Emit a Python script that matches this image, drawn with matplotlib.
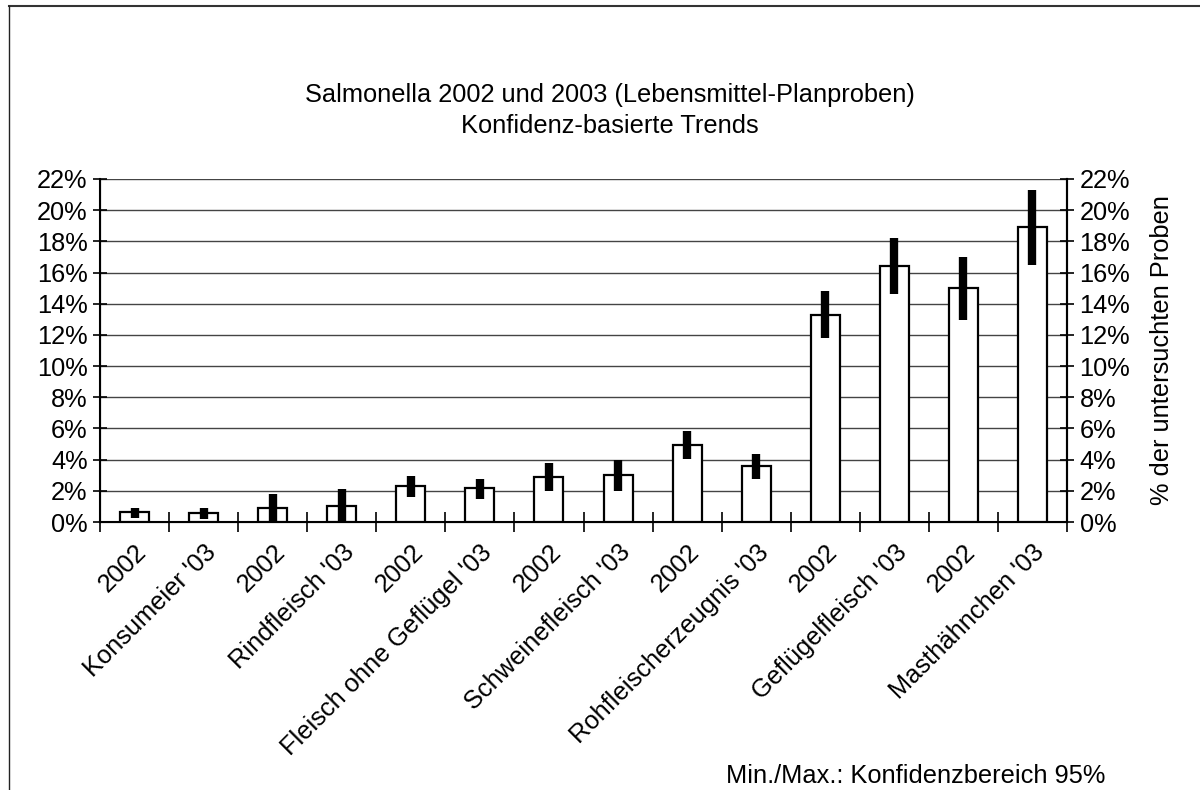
import matplotlib.pyplot as plt
import matplotlib.ticker as mticker
from matplotlib.lines import Line2D

plt.rcParams['font.family'] = ['Liberation Sans', 'DejaVu Sans']

labels = ['2002', "Konsumeier '03", '2002', "Rindfleisch '03",
          '2002', "Fleisch ohne Geflügel '03", '2002', "Schweinefleisch '03",
          '2002', "Rohfleischerzeugnis '03", '2002', "Geflügelfleisch '03",
          '2002', "Masthähnchen '03"]
werte = [0.66, 0.60, 0.88, 1.05, 2.30, 2.16, 2.87, 2.99, 4.94, 3.59,
         13.3, 16.43, 15.0, 18.9]
ki_min = [0.28, 0.20, 0.0, 0.0, 1.60, 1.50, 1.99, 1.99, 4.06, 2.78,
          11.78, 14.63, 12.95, 16.5]
ki_max = [0.92, 0.88, 1.78, 2.10, 2.93, 2.76, 3.76, 4.00, 5.83, 4.36,
          14.83, 18.2, 16.99, 21.28]

fs = 18.3

fig = plt.figure(figsize=(12, 7.9), dpi=100)
ax = fig.add_axes([100/1200, 1 - 522/790, 967/1200, 343/790])

x = list(range(len(werte)))
ax.bar(x, werte, width=0.42, color='white', edgecolor='black', linewidth=1.6, zorder=3)
ax.vlines(x, ki_min, ki_max, color='black', linewidth=6, zorder=4)

ax.set_xlim(-0.5, len(werte) - 0.5)
ax.set_ylim(0, 22)
ax.yaxis.set_major_locator(mticker.MultipleLocator(2))
ax.yaxis.set_major_formatter(mticker.FuncFormatter(lambda v, p: f'{v:.0f}%'))
ax.grid(axis='y', color='#444444', linewidth=1, zorder=0)
ax.tick_params(axis='y', labelsize=fs, direction='inout', length=10, width=1.2, pad=4)

ax.set_xticks(x)
ax.set_xticklabels(labels, rotation=45, ha='right', va='top', rotation_mode='anchor',
                   fontsize=fs)
ax.tick_params(axis='x', length=0, pad=13)
ax.set_xticks([i + 0.5 for i in range(-1, len(werte))], minor=True)
ax.tick_params(axis='x', which='minor', direction='inout', length=14, width=1.2)

ax.spines['top'].set_visible(False)
for s in ['left', 'right', 'bottom']:
    ax.spines[s].set_linewidth(1.5)

ax2 = ax.twinx()
ax2.set_ylim(0, 22)
ax2.yaxis.set_major_locator(mticker.MultipleLocator(2))
ax2.yaxis.set_major_formatter(mticker.FuncFormatter(lambda v, p: f'{v:.0f}%'))
ax2.tick_params(axis='y', labelsize=fs, direction='inout', length=10, width=1.2, pad=4)
ax2.spines['top'].set_visible(False)
ax2.spines['right'].set_linewidth(1.5)
ax2.set_ylabel('% der untersuchten Proben', fontsize=fs, labelpad=14)

fig.text(610/1200, 1 - 95/790, 'Salmonella 2002 und 2003 (Lebensmittel-Planproben)',
         ha='center', va='center', fontsize=fs)
fig.text(610/1200, 1 - 126/790, 'Konfidenz-basierte Trends',
         ha='center', va='center', fontsize=fs)
fig.text(726/1200, 1 - 776/790, 'Min./Max.: Konfidenzbereich 95%',
         ha='left', va='center', fontsize=fs)

# Rahmen
fig.add_artist(Line2D([9/1200, 1.0], [1 - 6/790, 1 - 6/790], color='#333333', linewidth=1.5))
fig.add_artist(Line2D([9/1200, 9/1200], [0, 1 - 6/790], color='#222222', linewidth=1))

fig.savefig('out.png', dpi=100)
